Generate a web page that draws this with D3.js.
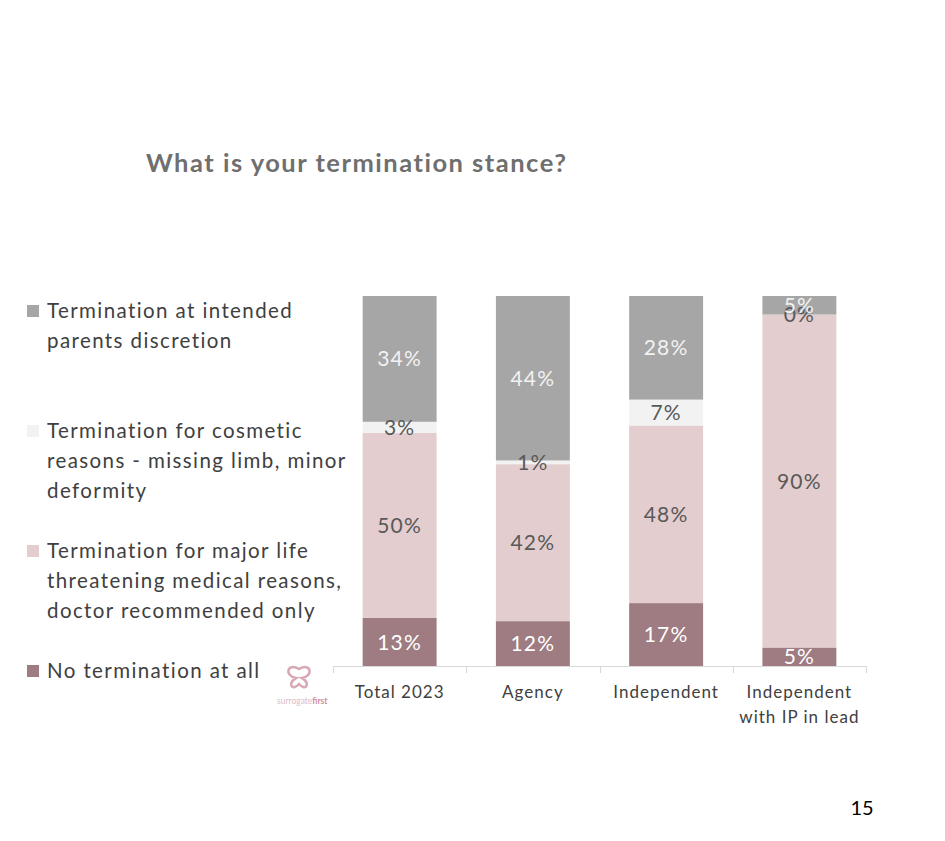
<!DOCTYPE html>
<html>
<head>
<meta charset="utf-8">
<script src="https://cdn.jsdelivr.net/npm/d3@7/dist/d3.min.js"></script>
<style>
html,body{margin:0;padding:0;background:#fff;}
svg{display:block;font-family:Lato,"Open Sans",sans-serif;}
</style>
</head>
<body>
<svg id="chart" width="945" height="841"></svg>
<script>
const categories = ["Total 2023", "Agency", "Independent", "Independent\nwith IP in lead"];
const seriesNames = [
  "No termination at all",
  "Termination for major life threatening medical reasons, doctor recommended only",
  "Termination for cosmetic reasons - missing limb, minor deformity",
  "Termination at intended parents discretion"
];
const noTermination = [13, 12, 17, 5];
const majorLife = [50, 42, 48, 90];
const cosmetic = [3, 1, 7, 0];
const ipDiscretion = [34, 44, 28, 5];
const legendLines = [
  ["Termination at intended", "parents discretion"],
  ["Termination for cosmetic", "reasons - missing limb, minor", "deformity"],
  ["Termination for major life", "threatening medical reasons,", "doctor recommended only"],
  ["No termination at all"]
];

const colors = ["#9e7c81", "#e3cdce", "#f2f2f2", "#a6a6a6"];
const labelColors = ["#ffffff", "#595959", "#595959", "#f2f2f2"];
const seriesValues = [noTermination, majorLife, cosmetic, ipDiscretion];

const svg = d3.select("#chart");

// title
svg.append("text").attr("x", 146).attr("y", 172)
  .attr("font-size", 25.5).attr("font-weight", "bold").attr("fill", "#6f6f6f")
  .attr("letter-spacing", 1.5)
  .text("What is your termination stance?");

const x = d3.scaleBand().domain(categories).range([333, 866]).paddingInner(0.445).paddingOuter(0.2225);
const y = d3.scaleLinear().domain([0, 1]).range([666, 296]);

// stacked normalized data
const rows = categories.map((c, i) => {
  const o = {cat: c};
  seriesValues.forEach((s, k) => o["s" + k] = s[i]);
  return o;
});
const keys = seriesValues.map((_, k) => "s" + k);
const stacked = d3.stack().keys(keys).offset(d3.stackOffsetExpand)(rows);

const g = svg.append("g");
stacked.forEach((layer, k) => {
  g.selectAll(null).data(layer).enter().append("rect")
    .attr("x", d => x(d.data.cat))
    .attr("width", x.bandwidth())
    .attr("y", d => y(d[1]))
    .attr("height", d => y(d[0]) - y(d[1]))
    .attr("fill", colors[k]);
});

// axis
const axisG = svg.append("g");
axisG.append("line").attr("x1", 333).attr("x2", 866).attr("y1", 666.5).attr("y2", 666.5)
  .attr("stroke", "#d9d9d9").attr("stroke-width", 1);
const bandStart = 333;
d3.range(categories.length + 1).forEach(i => {
  const tx = Math.round(bandStart + i * (866 - 333) / categories.length) + 0.5;
  axisG.append("line").attr("x1", tx).attr("x2", tx).attr("y1", 666).attr("y2", 673)
    .attr("stroke", "#d9d9d9");
});
categories.forEach(c => {
  const lines = c.split("\n");
  const t = axisG.append("text").attr("text-anchor", "middle").attr("font-size", 17)
    .attr("fill", "#404040").attr("letter-spacing", 1);
  lines.forEach((l, j) => {
    t.append("tspan").attr("x", x(c) + x.bandwidth() / 2).attr("y", 698 + j * 25).text(l);
  });
});

// value labels
stacked.forEach((layer, k) => {
  g.selectAll(null).data(layer).enter().append("text")
    .attr("x", d => x(d.data.cat) + x.bandwidth() / 2)
    .attr("y", d => (y(d[0]) + y(d[1])) / 2)
    .attr("dy", "0.36em")
    .attr("text-anchor", "middle")
    .attr("font-size", 21)
    .attr("letter-spacing", 1.2)
    .attr("fill", labelColors[k])
    .text(d => d.data["s" + k] + "%");
});

// legend (top to bottom: reverse of stack order)
const legendTops = [318, 438, 558, 678];
const legendOrder = [3, 2, 1, 0];
legendOrder.forEach((k, i) => {
  const by = legendTops[i];
  svg.append("rect").attr("x", 27).attr("y", by - 13).attr("width", 12).attr("height", 12).attr("fill", colors[k]);
  const t = svg.append("text").attr("font-size", 20.5).attr("fill", "#404040").attr("letter-spacing", 1.4);
  legendLines[i].forEach((l, j) => {
    t.append("tspan").attr("x", 47).attr("y", by + j * 30).text(l);
  });
});

// logo (approximate)
const logo = svg.append("g").attr("transform", "translate(299,678)").attr("fill", "none").attr("stroke", "#d7a9b4").attr("stroke-width", 2.6);
logo.append("path").attr("d", "M0,-9 C-12,-16 -15,-2 -3,0 C-12,5 -7,14 0,6 C7,14 12,5 3,0 C15,-2 12,-16 0,-9 Z");
svg.append("text").attr("x", 277).attr("y", 704).attr("font-size", 8.5).attr("fill", "#e0bcc5").text("surrogate")
  .append("tspan").attr("fill", "#d08ea0").attr("font-weight", "bold").text("first");

// page number
svg.append("text").attr("x", 862).attr("y", 815).attr("text-anchor", "middle").attr("font-size", 20).attr("fill", "#000").text("15");
</script>
</body>
</html>
